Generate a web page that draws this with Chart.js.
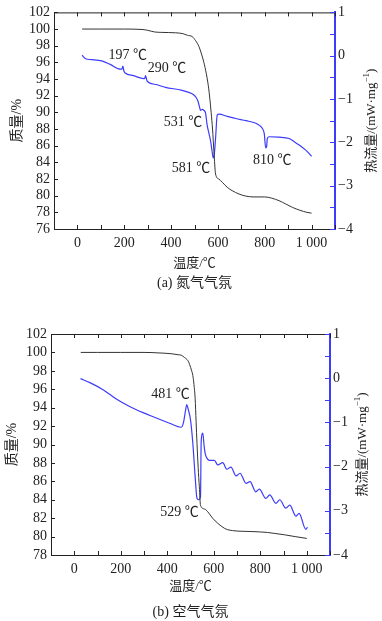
<!DOCTYPE html>
<html>
<head>
<meta charset="utf-8">
<script src="https://cdn.jsdelivr.net/npm/chart.js@4"></script>
<style>
body { margin: 0; background: #fff; width: 382px; height: 621px; position: relative; overflow: hidden; }
canvas { position: absolute; left: 0; }
#chartA { top: 0; }
#chartB { top: 310px; }
</style>
</head>
<body>
<canvas id="chartA" width="382" height="300"></canvas>
<canvas id="chartB" width="382" height="311"></canvas>
<script>
// (a) 氮气气氛 - TG curve (temperature, mass %)
const tgTempA = [20, 100, 200, 276, 300, 330, 360, 420, 450, 470, 490, 505, 519, 530, 540, 550, 559, 566, 571, 577, 583, 590, 604, 619, 640, 661, 690, 719, 750, 800, 830, 861, 890, 918, 950, 980, 1000]
const tgMassA = [100.0, 100.0, 100.0, 99.95, 99.85, 99.65, 99.6, 99.55, 99.45, 99.25, 99.1, 98.6, 97.9, 97.0, 96.0, 94.7, 93.2, 91.5, 90.0, 88.0, 85.3, 82.6, 82.0, 81.6, 81.0, 80.6, 80.2, 79.95, 79.85, 79.85, 79.7, 79.4, 79.0, 78.6, 78.25, 78.0, 77.9]
// (a) DSC curve (temperature, heat flow mW/mg)
const dscTempA = [20, 35, 60, 104, 140, 183, 190, 194, 199, 204, 240, 283, 288, 291, 296, 300, 340, 376, 447, 490, 505, 515, 522, 526, 533, 540, 547, 554, 562, 569, 575, 580, 584, 590, 597, 604, 640, 676, 720, 762, 780, 790, 798, 804, 808, 811, 819, 860, 904, 925, 947, 975, 1000]
const dscHeatA = [0.01, -0.07, -0.09, -0.12, -0.20, -0.31, -0.31, -0.24, -0.36, -0.40, -0.46, -0.53, -0.52, -0.46, -0.56, -0.60, -0.67, -0.73, -0.80, -0.88, -0.95, -1.05, -1.20, -1.26, -1.24, -1.26, -1.32, -1.60, -1.80, -1.98, -2.20, -2.36, -2.30, -1.90, -1.37, -1.35, -1.40, -1.45, -1.50, -1.56, -1.62, -1.68, -1.80, -2.13, -2.10, -1.91, -1.87, -1.88, -1.91, -1.98, -2.06, -2.18, -2.32]
const notesA = [
    { text: '197 ℃', x: 133, y: 96.8 },
    { text: '290 ℃', x: 300, y: 95.25 },
    { text: '531 ℃', x: 369, y: 88.8 },
    { text: '581 ℃', x: 403, y: 83.3 },
    { text: '810 ℃', x: 750, y: 84.25 }
]

// (b) 空气气氛
const tgTempB = [28, 100, 200, 300, 360, 420, 446, 460, 474, 489, 496, 505, 510, 515, 520, 524, 528, 533, 538, 543, 560, 574, 595, 617, 646, 660, 681, 700, 760, 831, 860, 903, 950, 1000]
const tgMassB = [100.0, 100.0, 100.0, 100.0, 99.95, 99.85, 99.75, 99.7, 99.45, 99.1, 98.7, 98.0, 97.5, 96.5, 95.0, 92.5, 90.1, 87.5, 85.4, 83.4, 83.0, 82.7, 82.0, 81.45, 80.9, 80.75, 80.65, 80.6, 80.55, 80.45, 80.35, 80.2, 80.0, 79.8]
const dscTempB = [27, 67, 124, 181, 238, 296, 353, 410, 460, 470, 478, 484, 490, 500, 510, 520, 528, 536, 543, 546, 553, 558, 563, 572, 581, 603, 617, 639, 656, 674, 696, 713, 739, 756, 781, 796, 824, 841, 867, 884, 910, 927, 953, 967, 996, 1003]
const dscHeatB = [-0.01, -0.10, -0.26, -0.47, -0.64, -0.78, -0.90, -1.02, -1.11, -1.00, -0.75, -0.60, -0.70, -0.94, -1.47, -2.23, -2.72, -2.75, -2.68, -1.43, -1.24, -1.50, -1.70, -1.82, -1.86, -1.86, -1.96, -1.91, -2.06, -2.01, -2.21, -2.15, -2.38, -2.34, -2.57, -2.51, -2.72, -2.64, -2.83, -2.75, -2.94, -2.87, -3.12, -3.06, -3.42, -3.37]
const notesB = [
    { text: '481 ℃', x: 331, y: 95.4 },
    { text: '529 ℃', x: 370, y: 82.65 }
]

const SERIF = "'Liberation Serif', 'Noto Sans CJK SC', serif"
const BLUE = 'rgb(60, 60, 250)'
const INK = '#222'

function pairs(xs, ys) {
    return xs.map((x, i) => ({ x: x, y: ys[i] }))
}

// inward ticks, top border, axis titles, caption and peak labels
const frame = {
    id: 'frame',
    afterDraw(chart) {
        const o = chart.options.plugins.frame
        const ctx = chart.ctx
        const { left, right, top, bottom } = chart.chartArea
        const sx = chart.scales.x, sy = chart.scales.y, s2 = chart.scales.y2
        ctx.save()
        ctx.lineWidth = 1
        ctx.strokeStyle = INK
        ctx.beginPath()
        ctx.moveTo(left, top + 0.5)
        ctx.lineTo(right, top + 0.5)
        sx.ticks.forEach(t => {
            const px = Math.round(sx.getPixelForValue(t.value)) + 0.5
            ctx.moveTo(px, bottom); ctx.lineTo(px, bottom - 4)
            ctx.moveTo(px, top); ctx.lineTo(px, top + 4)
        })
        sy.ticks.forEach(t => {
            const py = Math.round(sy.getPixelForValue(t.value)) + 0.5
            ctx.moveTo(left, py); ctx.lineTo(left + 4, py)
        })
        ctx.stroke()
        ctx.strokeStyle = BLUE
        ctx.beginPath()
        s2.ticks.forEach(t => {
            const py = Math.round(s2.getPixelForValue(t.value)) + 0.5
            ctx.moveTo(right, py); ctx.lineTo(right - 5, py)
        })
        ctx.stroke()

        ctx.fillStyle = INK
        ctx.textBaseline = 'middle'

        // peak labels
        ctx.font = `14px ${SERIF}`
        ctx.textAlign = 'left'
        o.notes.forEach(n => {
            ctx.fillText(n.text, sx.getPixelForValue(n.x), sy.getPixelForValue(n.y))
        })

        // x title and caption
        ctx.textAlign = 'center'
        const cx = (left + right) / 2
        ctx.font = `13px ${SERIF}`
        ctx.fillText('温度/℃', cx, bottom + o.xTitleGap)
        ctx.font = `14px ${SERIF}`
        ctx.fillText(o.caption, cx, bottom + o.captionGap)

        const cy = (top + bottom) / 2
        // left title
        ctx.save()
        ctx.translate(o.leftX, cy)
        ctx.rotate(-Math.PI / 2)
        ctx.font = `14px ${SERIF}`
        ctx.fillText('质量/%', 0, 0)
        ctx.restore()

        // right title with superscript
        ctx.save()
        ctx.translate(o.rightX, cy)
        ctx.rotate(-Math.PI / 2)
        ctx.textAlign = 'left'
        const main = '热流量/(mW·mg', sup = '−1', end = ')'
        ctx.font = `13px ${SERIF}`
        const w1 = ctx.measureText(main).width
        const w3 = ctx.measureText(end).width
        ctx.font = `9px ${SERIF}`
        const w2 = ctx.measureText(sup).width
        let x0 = -(w1 + w2 + w3) / 2
        ctx.font = `13px ${SERIF}`
        ctx.fillText(main, x0, 0)
        ctx.font = `9px ${SERIF}`
        ctx.fillText(sup, x0 + w1, -5)
        ctx.font = `13px ${SERIF}`
        ctx.fillText(end, x0 + w1 + w2, 0)
        ctx.restore()

        ctx.restore()
    }
}

function makeChart(canvas, box, tg, dsc, yMin, notes, caption) {
    const tickFont = { family: SERIF, size: 14 }
    return new Chart(canvas, {
        type: 'line',
        data: {
            datasets: [{
                data: tg,
                yAxisID: 'y',
                borderColor: '#333',
                borderWidth: 1,
                pointRadius: 0,
                cubicInterpolationMode: 'monotone'
            }, {
                data: dsc,
                yAxisID: 'y2',
                borderColor: BLUE,
                borderWidth: 1.2,
                pointRadius: 0,
                cubicInterpolationMode: 'monotone'
            }]
        },
        options: {
            responsive: false,
            animation: false,
            layout: { padding: { top: box.top, left: 0, right: 0, bottom: 0 } },
            plugins: {
                legend: { display: false },
                tooltip: { enabled: false },
                frame: {
                    notes: notes,
                    caption: caption,
                    xTitleGap: box.xTitleGap,
                    captionGap: box.captionGap,
                    leftX: box.leftX,
                    rightX: box.rightX
                }
            },
            scales: {
                x: {
                    type: 'linear',
                    min: -100,
                    max: 1100,
                    afterFit: s => { s.height = box.xHeight },
                    grid: { drawOnChartArea: false, drawTicks: false },
                    border: { color: INK, width: 1 },
                    ticks: {
                        stepSize: 100,
                        padding: 6,
                        color: INK,
                        font: tickFont,
                        maxRotation: 0,
                        autoSkip: false,
                        callback: v => (v >= 0 && v <= 1000 && v % 200 === 0) ? (v === 1000 ? '1 000' : String(v)) : ''
                    }
                },
                y: {
                    position: 'left',
                    min: yMin,
                    max: 102,
                    afterFit: s => { s.width = box.leftW },
                    grid: { drawOnChartArea: false, drawTicks: false },
                    border: { color: INK, width: 1 },
                    ticks: { stepSize: 2, padding: 4, color: INK, font: tickFont, autoSkip: false }
                },
                y2: {
                    position: 'right',
                    min: -4,
                    max: 1,
                    afterFit: s => { s.width = box.rightW },
                    grid: { drawOnChartArea: false, drawTicks: false },
                    border: { color: BLUE, width: 2 },
                    ticks: {
                        stepSize: 0.5,
                        padding: 3,
                        color: INK,
                        font: tickFont,
                        autoSkip: false,
                        callback: v => Number.isInteger(v) ? String(v).replace('-', '−') : ''
                    }
                }
            }
        },
        plugins: [frame]
    })
}

makeChart(chartA,
    { top: 9, leftW: 54, rightW: 47, xHeight: 71, xTitleGap: 35, captionGap: 54, leftX: 17, rightX: 372 },
    pairs(tgTempA, tgMassA), pairs(dscTempA, dscHeatA), 76, notesA, '(a) 氮气气氛')

makeChart(chartB,
    { top: 24, leftW: 51, rightW: 52, xHeight: 66, xTitleGap: 32, captionGap: 57, leftX: 12, rightX: 363 },
    pairs(tgTempB, tgMassB), pairs(dscTempB, dscHeatB), 78, notesB, '(b) 空气气氛')
</script>
</body>
</html>
